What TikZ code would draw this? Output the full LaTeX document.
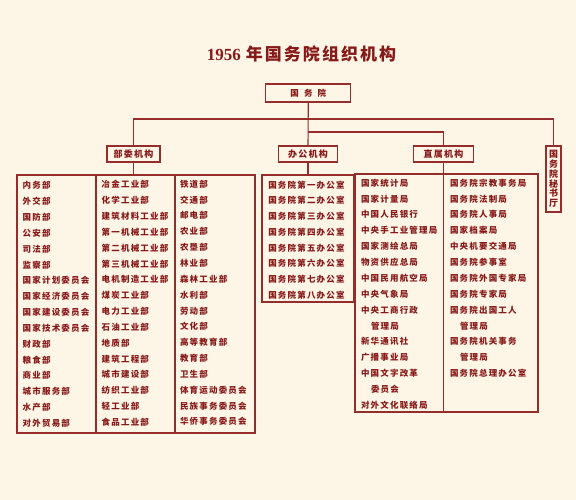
\documentclass[tikz,border=0pt]{standalone}
\usepackage{fontspec}
\setmainfont{Liberation Serif}
\newfontfamily\cjk{Noto Sans CJK SC}[LetterSpace=14]
\newfontfamily\cjkt{Noto Sans CJK SC}[LetterSpace=12]
\newfontfamily\cjkw{Noto Sans CJK SC}[LetterSpace=60]
\definecolor{bgc}{RGB}{253,246,231}
\definecolor{ink}{RGB}{135,25,25}
\definecolor{ln}{RGB}{150,45,45}
\begin{document}
\begin{tikzpicture}[x=1pt,y=-1pt,
  every node/.style={inner sep=0pt, outer sep=0pt, text=ink},
  item/.style={anchor=west, font=\cjk\bfseries\fontsize{8.5}{10}\selectfont},
  headbox/.style={draw=ln, line width=1.2pt, minimum height=16pt, font=\cjk\bfseries\fontsize{9}{10}\selectfont},
  bigbox/.style={draw=ln, line width=1.2pt, anchor=north west},
  conn/.style={draw=ln, line width=1.1pt}]
\fill[bgc] (0,0) rectangle (576,500);
\useasboundingbox (0,0) rectangle (576,500);

% title
\node (title) at (301.5,54) {\fontsize{17}{17}\selectfont\bfseries 1956\hspace{5pt}{\cjkt 年国务院组织机构}};

% top box
\node[headbox, minimum width=85pt, minimum height=18pt, font=\cjkw\bfseries\fontsize{8.5}{10}\selectfont] (top) at (308.3,93) {国务院};

% second level
\node[headbox, minimum width=53pt] (bw) at (133.5,154) {部委机构};
\node[headbox, minimum width=59pt] (bg) at (308,154) {办公机构};
\node[headbox, minimum width=60pt] (zs) at (443.5,154) {直属机构};
\node[draw=ln, line width=1.2pt, minimum width=15pt, minimum height=66pt, align=center,
      font=\cjk\bfseries\fontsize{9}{9.7}\selectfont] (ms) at (553.5,179) {国\\务\\院\\秘\\书\\厅};

% big boxes
\node[bigbox, minimum width=238pt, minimum height=258pt] (bwbox) at (17,175) {};
\node[bigbox, minimum width=92pt, minimum height=127pt] (bgbox) at (262,175) {};
\node[bigbox, minimum width=183pt, minimum height=238pt] (zsbox) at (355,174) {};

% connectors
\coordinate (h1) at (308,119);
\coordinate (h2) at (308,132);
\draw[conn] (top.south) -- (bg.north);
\draw[conn] (bw.north) |- (h1) -| (ms.north);
\draw[conn] (h2) -| (zs.north);
\draw[conn] (bw.south) -- (bw.south |- bwbox.north);
\draw[conn] (bg.south) -- (bg.south |- bgbox.north);
\draw[conn] (zs.south) -- (zs.south |- zsbox.south);

% dividers in the left box
\coordinate (d1) at (96,175);
\coordinate (d2) at (175,175);
\draw[conn] (d1) -- (d1 |- bwbox.south);
\draw[conn] (d2) -- (d2 |- bwbox.south);

% left box columns
\foreach \t [count=\i] in {内务部,外交部,国防部,公安部,司法部,监察部,国家计划委员会,国家经济委员会,国家建设委员会,国家技术委员会,财政部,粮食部,商业部,城市服务部,水产部,对外贸易部}
  \node[item] (a\i) at (22.7,{185.5+(\i-1)*15.85}) {\t};
\foreach \t [count=\i] in {冶金工业部,化学工业部,建筑材料工业部,第一机械工业部,第二机械工业部,第三机械工业部,电机制造工业部,煤炭工业部,电力工业部,石油工业部,地质部,建筑工程部,城市建设部,纺织工业部,轻工业部,食品工业部}
  \node[item] (b\i) at (101.7,{184.5+(\i-1)*15.85}) {\t};
\foreach \t [count=\i] in {铁道部,交通部,邮电部,农业部,农垦部,林业部,森林工业部,水利部,劳动部,文化部,高等教育部,教育部,卫生部,体育运动委员会,民族事务委员会,华侨事务委员会}
  \node[item] (c\i) at (180,{184+(\i-1)*15.85}) {\t};

% office column
\foreach \t [count=\i] in {一,二,三,四,五,六,七,八}
  \node[item] (o\i) at (268.3,{185+(\i-1)*15.7}) {国务院第\t 办公室};

% directly affiliated columns
\foreach \d/\t [count=\i] in {0/国家统计局,0/国家计量局,0/中国人民银行,0/中央手工业管理局,0/国家测绘总局,0/物资供应总局,0/中国民用航空局,0/中央气象局,0/中央工商行政,1/管理局,0/新华通讯社,0/广播事业局,0/中国文字改革,1/委员会,0/对外文化联络局}
  \node[item] (z\i) at ({361+10*\d},{183+(\i-1)*15.86}) {\t};
\foreach \d/\t [count=\i] in {0/国务院宗教事务局,0/国务院法制局,0/国务院人事局,0/国家档案局,0/中央机要交通局,0/国务院参事室,0/国务院外国专家局,0/国务院专家局,0/国务院出国工人,1/管理局,0/国务院机关事务,1/管理局,0/国务院总理办公室}
  \node[item] (y\i) at ({450+10*\d},{183+(\i-1)*15.86}) {\t};
\end{tikzpicture}
\end{document}
